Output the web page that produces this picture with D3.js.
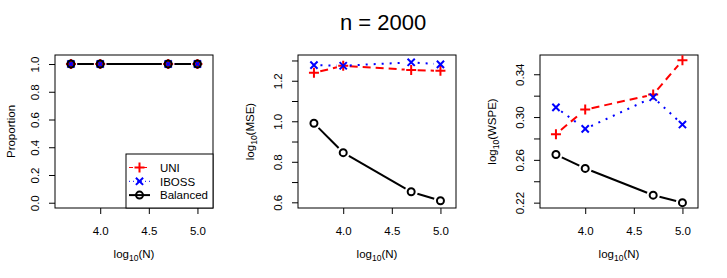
<!DOCTYPE html>
<html>
<head>
<meta charset="utf-8">
<script src="https://cdn.jsdelivr.net/npm/d3@7"></script>
<style>
  body { margin: 0; background: #fff; }
  svg text { font-family: "Liberation Sans", Arial, sans-serif; }
</style>
</head>
<body>
<div id="vis-container"></div>
<script>
// data
const logN = [3.699, 4, 4.699, 5];

const propUNI = [1, 1, 1, 1];
const propIBOSS = [1, 1, 1, 1];
const propBalanced = [1, 1, 1, 1];

const mseUNI = [1.239, 1.274, 1.253, 1.249];
const mseIBOSS = [1.277, 1.274, 1.291, 1.281];
const mseBalanced = [0.990, 0.845, 0.652, 0.608];

const wspeUNI = [0.284, 0.307, 0.321, 0.353];
const wspeIBOSS = [0.309, 0.289, 0.3185, 0.293];
const wspeBalanced = [0.265, 0.252, 0.227, 0.220];

const xTicks = [4, 4.5, 5];
const propTicks = [0, 0.2, 0.4, 0.6, 0.8, 1.0];
const propLabels = ["0.0", "0.2", "0.4", "0.6", "0.8", "1.0"];
const mseTicks = [0.6, 0.7, 0.8, 0.9, 1.0, 1.1, 1.2, 1.3];
const mseLabels = ["0.6", "", "0.8", "", "1.0", "", "1.2", ""];
const wspeTicks = [0.22, 0.24, 0.26, 0.28, 0.30, 0.32, 0.34];
const wspeLabels = ["0.22", "", "0.26", "", "0.30", "", "0.34"];

const seriesNames = ["UNI", "IBOSS", "Balanced"];

let width = 727;
let height = 278;
const fs = "11.5px";

let svg = d3.select("#vis-container")
  .append("svg")
  .attr("width", width)
  .attr("height", height);

svg.append("text")
  .attr("x", 383)
  .attr("y", 30)
  .attr("text-anchor", "middle")
  .style("font-size", "22px")
  .text("n = 2000");

const styles = [
  { color: "#ff0000", dash: "8,5", pch: "plus" },
  { color: "#0000ff", dash: "2,6", pch: "cross" },
  { color: "#000000", dash: null, pch: "circle" }
];

const panels = [
  { left: 55, ylab: "Proportion", sub: false, ylabOff: 40, ydom: [-0.038, 1.065],
    ticks: propTicks, labels: propLabels, series: [propUNI, propIBOSS, propBalanced], legend: true },
  { left: 298, ylab: "MSE", sub: true, ylabOff: 44, ydom: [0.572, 1.327],
    ticks: mseTicks, labels: mseLabels, series: [mseUNI, mseIBOSS, mseBalanced] },
  { left: 540, ylab: "WSPE", sub: true, ylabOff: 44, ydom: [0.215, 0.358],
    ticks: wspeTicks, labels: wspeLabels, series: [wspeUNI, wspeIBOSS, wspeBalanced] }
];

const plotTop = 55, plotBottom = 208, boxW = 158;

function drawPoint(g, pch, color, cx, cy) {
  if (pch === "circle") {
    g.append("circle").attr("cx", cx).attr("cy", cy).attr("r", 3.5)
      .attr("fill", "none").attr("stroke", color).attr("stroke-width", 2);
  } else if (pch === "plus") {
    let s = 5;
    g.append("path")
      .attr("d", `M${cx - s},${cy}H${cx + s}M${cx},${cy - s}V${cy + s}`)
      .attr("stroke", color).attr("stroke-width", 2);
  } else {
    let s = 3.6;
    g.append("path")
      .attr("d", `M${cx - s},${cy - s}L${cx + s},${cy + s}M${cx - s},${cy + s}L${cx + s},${cy - s}`)
      .attr("stroke", color).attr("stroke-width", 2);
  }
}

// R type="b": segments leave a gap around each point
function gappedSegments(pts, gap) {
  let out = [];
  for (let i = 0; i < pts.length - 1; i++) {
    let [x1, y1] = pts[i], [x2, y2] = pts[i + 1];
    let dx = x2 - x1, dy = y2 - y1, len = Math.hypot(dx, dy);
    if (len <= 2 * gap) continue;
    let ux = dx / len, uy = dy / len;
    out.push([[x1 + ux * gap, y1 + uy * gap], [x2 - ux * gap, y2 - uy * gap]]);
  }
  return out;
}

panels.forEach(function (p) {
  let x = d3.scaleLinear().domain([3.535, 5.16]).range([p.left, p.left + boxW]);
  let y = d3.scaleLinear().domain(p.ydom).range([plotBottom, plotTop]);
  let g = svg.append("g");

  // x axis
  let xa = g.append("g")
    .attr("transform", `translate(0,${plotBottom})`)
    .call(d3.axisBottom(x).tickValues(xTicks).tickSize(6).tickSizeOuter(0)
      .tickFormat(d3.format(".1f")));
  xa.select(".domain").remove();
  xa.selectAll("line").attr("stroke", "#000");
  xa.selectAll("text").attr("y", 27).attr("dy", 0)
    .style("font-size", fs).attr("fill", "#000");
  xa.attr("font-family", null).attr("font-size", null);

  // y axis
  let ya = g.append("g")
    .attr("transform", `translate(${p.left},0)`)
    .call(d3.axisLeft(y).tickValues(p.ticks).tickSize(6).tickSizeOuter(0)
      .tickFormat((d, i) => p.labels[i]));
  ya.select(".domain").remove();
  ya.selectAll("line").attr("stroke", "#000");
  ya.selectAll("text")
    .attr("transform", "rotate(-90)")
    .attr("x", 0).attr("y", -16).attr("dy", 0)
    .attr("text-anchor", "middle")
    .style("font-size", fs).attr("fill", "#000");
  ya.attr("font-family", null).attr("font-size", null);

  // box
  g.append("rect")
    .attr("x", p.left).attr("y", plotTop)
    .attr("width", boxW).attr("height", plotBottom - plotTop)
    .attr("fill", "none").attr("stroke", "#000").attr("stroke-width", 1);

  // x title
  let xt = g.append("text")
    .attr("x", p.left + boxW / 2).attr("y", 258)
    .attr("text-anchor", "middle").style("font-size", fs);
  xt.append("tspan").text("log");
  xt.append("tspan").attr("dy", 3).style("font-size", "8.5px").text("10");
  xt.append("tspan").attr("dy", -3).text("(N)");

  // y title
  let yt = g.append("text")
    .attr("transform", `translate(${p.left - p.ylabOff},${(plotTop + plotBottom) / 2}) rotate(-90)`)
    .attr("text-anchor", "middle").style("font-size", fs);
  if (p.sub) {
    yt.append("tspan").text("log");
    yt.append("tspan").attr("dy", 3).style("font-size", "8.5px").text("10");
    yt.append("tspan").attr("dy", -3).text("(" + p.ylab + ")");
  } else {
    yt.text(p.ylab);
  }

  // series
  p.series.forEach(function (vals, k) {
    let st = styles[k];
    let pts = vals.map((v, i) => [x(logN[i]), y(v)]);
    gappedSegments(pts, 6.5).forEach(function (s) {
      g.append("line")
        .attr("x1", s[0][0]).attr("y1", s[0][1])
        .attr("x2", s[1][0]).attr("y2", s[1][1])
        .attr("stroke", st.color).attr("stroke-width", 2)
        .attr("stroke-dasharray", st.dash);
    });
    pts.forEach(pt => drawPoint(g, st.pch, st.color, pt[0], pt[1]));
  });

  if (p.legend) {
    let lx = 126, ly = 154;
    let lg = g.append("g");
    lg.append("rect")
      .attr("x", lx).attr("y", ly)
      .attr("width", p.left + boxW - lx).attr("height", plotBottom - ly)
      .attr("fill", "#fff").attr("stroke", "#000").attr("stroke-width", 1);
    seriesNames.forEach(function (name, k) {
      let st = styles[k];
      let cy = 167.5 + k * 13.8;
      lg.append("line")
        .attr("x1", 129).attr("x2", 150).attr("y1", cy).attr("y2", cy)
        .attr("stroke", st.color).attr("stroke-width", k === 2 ? 2 : 1)
        .attr("stroke-dasharray", k === 0 ? "4,3" : (k === 1 ? "1,3" : null));
      drawPoint(lg, st.pch, st.color, 139.5, cy);
      lg.append("text")
        .attr("x", 160).attr("y", cy + 4.2)
        .style("font-size", fs)
        .text(name);
    });
  }
});
</script>
</body>
</html>
